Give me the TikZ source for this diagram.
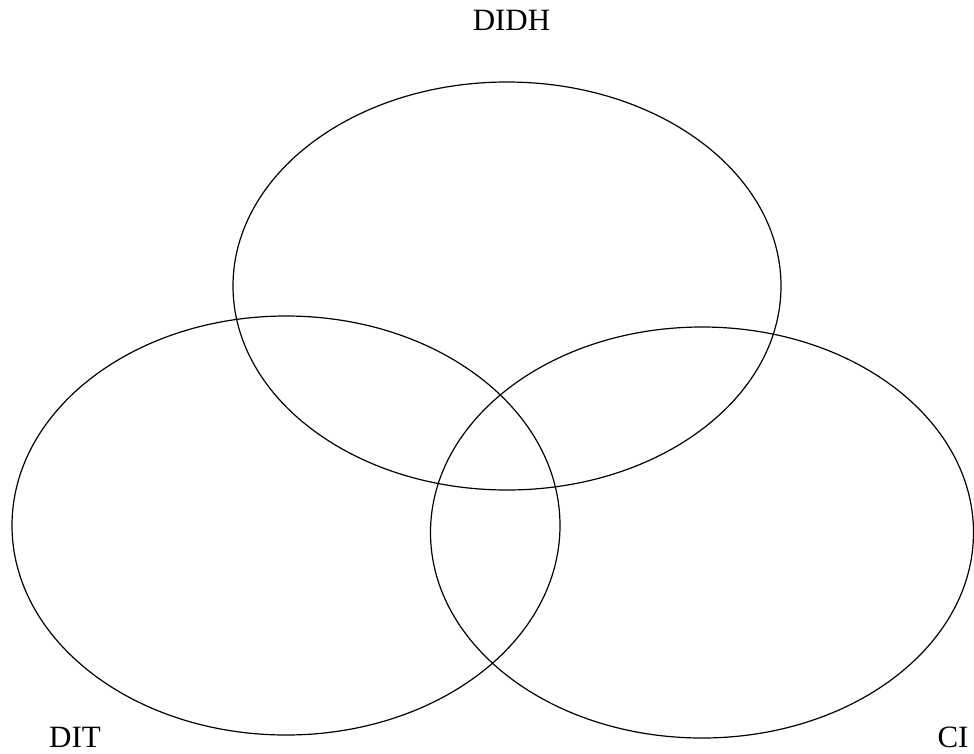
\documentclass[tikz,border=0pt]{standalone}
\usepackage{fontspec}
\setmainfont{Liberation Serif}
\begin{document}
\begin{tikzpicture}[x=1pt,y=-1pt,
  ring/.style={draw=black,line width=1.2pt},
  lbl/.style={font=\fontsize{31}{36}\selectfont,inner sep=0pt}]
\useasboundingbox (0,0) rectangle (974,753);
\draw[ring] (507,286) ellipse [x radius=274, y radius=204];
\draw[ring] (286,525.5) ellipse [x radius=274, y radius=209.5];
\draw[ring] (702,532.5) ellipse [x radius=271.5, y radius=205.5];
\node[lbl] (didh) at (511.5,20) {DIDH};
\node[lbl] (dit) at (75,737) {DIT};
\node[lbl] (ci) at (953,737) {CI};
\end{tikzpicture}
\end{document}
